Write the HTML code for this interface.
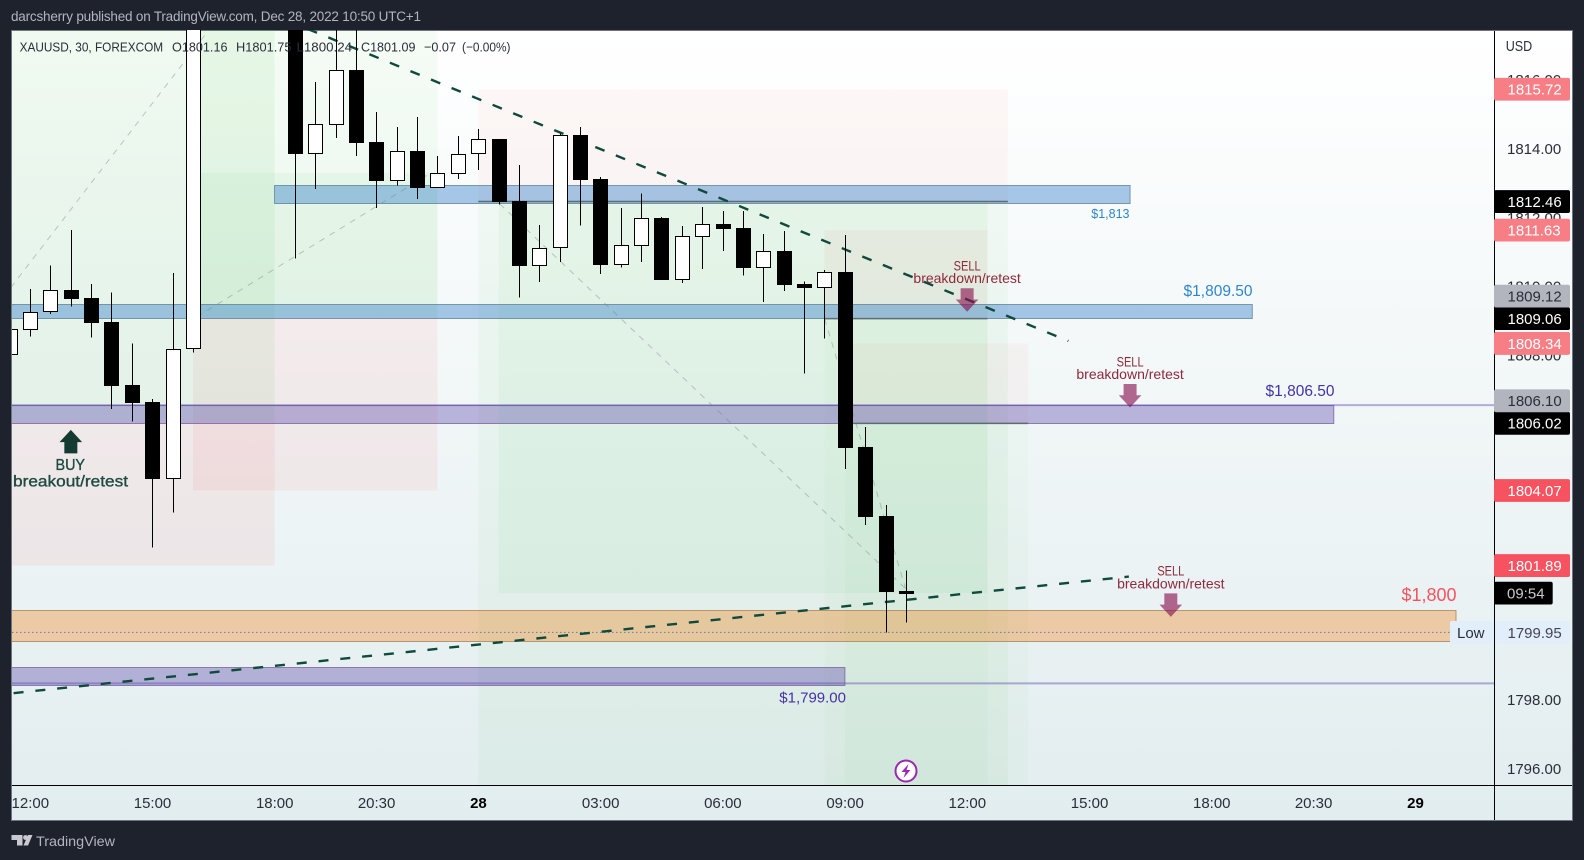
<!DOCTYPE html>
<html lang="en">
<head>
<meta charset="utf-8">
<title>XAUUSD 30 chart</title>
<style>
html,body{margin:0;padding:0;background:#1e222d;width:1584px;height:860px;overflow:hidden}
svg{display:block}
text{font-family:"Liberation Sans",sans-serif;white-space:pre}
.tick{font-size:15px;fill:#2a2e39}
.plab{font-size:15px}
.anno{font-size:14px;fill:#8e2a3c;text-anchor:middle}
.leg{font-size:13px;fill:#2a2e39}
</style>
</head>
<body>
<svg id="root" xmlns="http://www.w3.org/2000/svg" width="1584" height="860" viewBox="0 0 1584 860">
  <defs>
    <linearGradient id="bg" x1="0" y1="0" x2="0" y2="1">
      <stop offset="0" stop-color="#ffffff"/>
      <stop offset="1" stop-color="#e2edef"/>
    </linearGradient>
    <clipPath id="plot"><rect x="12" y="30" width="1482" height="755"/></clipPath>
  </defs>
  <rect x="0" y="0" width="1584" height="860" fill="#1e222d"/>
  <text x="11" y="21" font-size="13.5" fill="#b2b5be" textLength="410" lengthAdjust="spacing">darcsherry published on TradingView.com, Dec 28, 2022 10:50 UTC+1</text>
  <rect x="11.5" y="30.5" width="1561" height="790" fill="url(#bg)" stroke="#70747f" stroke-width="1"/>
  <g id="plotLayer" clip-path="url(#plot)"></g>
  <g id="axisLayer"></g>
  <g>
    <text class="leg" x="19.6" y="51.3" textLength="143.5" lengthAdjust="spacingAndGlyphs">XAUUSD, 30, FOREXCOM</text>
    <text class="leg" x="172" y="51.3" textLength="55.5" lengthAdjust="spacingAndGlyphs">O1801.16</text>
    <text class="leg" x="236" y="51.3" textLength="55.5" lengthAdjust="spacingAndGlyphs">H1801.75</text>
    <text class="leg" x="296.5" y="51.3" textLength="55.5" lengthAdjust="spacingAndGlyphs">L1800.24</text>
    <text class="leg" x="361" y="51.3" textLength="54.5" lengthAdjust="spacingAndGlyphs">C1801.09</text>
    <text class="leg" x="424" y="51.3" textLength="32" lengthAdjust="spacingAndGlyphs">−0.07</text>
    <text class="leg" x="462" y="51.3" textLength="48.5" lengthAdjust="spacingAndGlyphs">(−0.00%)</text>
  </g>
  <g>
    <path d="M11.5 835h11v10.5h-5.5v-5.5h-5.5z" fill="#c8cad0"/>
    <circle cx="25.5" cy="837.5" r="2.4" fill="#c8cad0"/>
    <path d="M28 835h4.5l-4.5 10.5h-4.5z" fill="#c8cad0"/>
    <text x="36" y="846" font-size="14" fill="#b2b5be" textLength="79" lengthAdjust="spacingAndGlyphs">TradingView</text>
  </g>
</svg>
<script>
// ---- candle data (30 minute bars), bar 0 = 12:00 on Dec 27 ----
const firstBar = -1;
const opens  = [1808.00,1808.74,1809.24,1809.89,1809.66,1808.96,1807.13,1806.64,1804.41,1808.17,1819.00,1820.00,1821.00,1820.50,1819.50,1813.85,1814.69,1816.28,1814.19,1813.07,1813.93,1812.86,1813.27,1813.83,1814.28,1812.48,1810.60,1811.10,1814.39,1813.11,1810.63,1811.18,1811.98,1810.19,1811.44,1811.81,1811.69,1810.54,1811.02,1810.07,1809.96,1810.41,1805.33,1803.33,1801.16];
const highs  = [1809.20,1809.92,1810.61,1811.63,1810.06,1809.82,1808.34,1806.72,1810.38,1820.00,1821.00,1822.00,1822.50,1821.50,1820.00,1815.93,1818.40,1818.20,1815.06,1814.62,1814.91,1813.78,1814.36,1814.57,1814.28,1813.52,1811.78,1814.44,1814.62,1813.17,1812.27,1812.70,1812.01,1811.75,1812.30,1812.19,1812.19,1811.52,1811.60,1810.14,1810.47,1811.49,1805.91,1803.65,1801.75];
const lows   = [1807.80,1808.54,1809.20,1809.41,1808.51,1806.44,1806.07,1802.41,1803.43,1808.07,1818.20,1819.00,1820.00,1819.00,1810.80,1812.83,1814.31,1813.78,1812.27,1812.92,1812.54,1812.86,1813.12,1813.38,1812.38,1809.67,1810.12,1810.70,1811.76,1810.36,1810.54,1810.70,1810.18,1810.10,1810.50,1811.02,1810.31,1809.54,1809.86,1807.46,1808.48,1804.69,1803.07,1799.95,1800.24];
const closes = [1808.75,1809.24,1809.88,1809.64,1808.94,1807.11,1806.62,1804.41,1808.17,1819.00,1820.00,1821.00,1820.50,1819.50,1813.85,1814.70,1816.27,1814.17,1813.07,1813.92,1812.86,1813.28,1813.83,1814.27,1812.46,1810.60,1811.10,1814.38,1813.09,1810.63,1811.19,1811.97,1810.18,1811.45,1811.80,1811.66,1810.54,1811.02,1810.05,1809.95,1810.41,1805.31,1803.31,1801.13,1801.09];

// ---- axis labels ----
const priceTicks = [1816,1814,1812,1810,1808,1806,1798,1796];
const timeBars   = [0,6,12,17,22,28,34,40,46,52,58,63,68];
const timeLabels = ["12:00","15:00","18:00","20:30","28","03:00","06:00","09:00","12:00","15:00","18:00","20:30","29"];
const boldTimeLabels = ["28","29"];

// ---- price scale markers ----
const stopLabels   = [1815.72,1811.63,1808.34];
const longStops    = [1804.07,1801.89];
const entryLabels  = [1812.46,1809.06,1806.02];
const greyLabels   = [1809.12,1806.10];
const lastPrice    = 1801.09;
const lowPrice     = 1799.95;
const countdown    = "09:54";

// ---- long/short position tool zones (bar range, price range) ----
const profitFrom   = [-2,8,8,22,23,39,40];
const profitTo     = [12,20,20,48,47,47,49];
const profitTop    = [1818,1818,1813.29,1812.46,1812.46,1809.06,1806.02];
const profitBottom = [1806.10,1809.12,1809.12,1795.5,1801.09,1795.5,1795.5];
const lossFrom     = [-2,8,22,39,40];
const lossTo       = [12,20,48,47,49];
const lossTop      = [1806.10,1809.12,1815.72,1811.63,1808.34];
const lossBottom   = [1801.89,1804.07,1812.46,1809.06,1806.02];

// ---- support / resistance bands ----
const bandNames  = ["blue-band-1813","blue-band-1809","purple-band-1806","orange-band-1800","purple-band-1799"];
const bandKinds  = ["blue","blue","purple","orange","purple"];
const bandFrom   = [12,-2,-2,-2,-2];
const bandTo     = [54,60,64,70,40];
const bandTop    = [1812.93,1809.48,1806.56,1800.59,1798.94];
const bandBottom = [1812.41,1809.06,1806.04,1799.69,1798.43];

// ---- extended horizontal levels ----
const levelPrices = [1806.55,1798.47];
const entryLineFrom  = [22,39,40];
const entryLineTo    = [48,47,49];
const entryLinePrice = [1812.46,1809.06,1806.02];

// ---- trend lines and position-tool diagonals ----
const trendBarA   = [13.63,-1.88];
const trendPriceA = [1817.47,1798.12];
const trendBarB   = [50.97,53.94];
const trendPriceB = [1808.41,1801.57];
const diagBarA    = [-0.95,8.18,23.06,39.01];
const diagPriceA  = [1809.96,1809.11,1812.39,1809.05];
const diagBarB    = [8.77,19.67,43,43];
const diagPriceB  = [1817.44,1813.29,1801.21,1801.18];

// ---- trade arrows ----
const sellArrowBars   = [46,54,56];
const sellArrowPrices = [1809.26,1806.48,1800.40];
const buyArrowBar   = 2;
const buyArrowPrice = 1805.83;
const eventBar = 43;

// ---- axis functions ----
const PX_PER_BAR = 20.37, BAR0_X = 30.1;
const PX_PER_USD = 34.44, P0 = 1814, P0_Y = 148.5;
function X(b){ return BAR0_X + b * PX_PER_BAR; }
function Y(p){ return P0_Y + (P0 - p) * PX_PER_USD; }

const NS = "http://www.w3.org/2000/svg";
const plot = document.getElementById("plotLayer");
const axis = document.getElementById("axisLayer");
function mk(tag, parent, attrs){
  const el = document.createElementNS(NS, tag);
  for (const k in attrs) el.setAttribute(k, attrs[k]);
  parent.appendChild(el);
  return el;
}

// zones
const profitOpacity = [0.085,0.055,0.06,0.05,0.06,0.035,0.035];
const lossOpacity   = [0.065,0.065,0.04,0.05,0.04];
profitFrom.forEach((b,i)=>{
  const el = mk("rect", plot, {x:X(b), y:Y(profitTop[i]), width:X(profitTo[i])-X(b), height:Y(profitBottom[i])-Y(profitTop[i]), fill:"rgb(76,200,80)", "fill-opacity":profitOpacity[i]});
  
  
});
lossFrom.forEach((b,i)=>{
  const el = mk("rect", plot, {x:X(b), y:Y(lossTop[i]), width:X(lossTo[i])-X(b), height:Y(lossBottom[i])-Y(lossTop[i]), fill:"rgb(244,67,54)", "fill-opacity":lossOpacity[i]});
  
  
});

// bands
const bandFill = {blue:"rgba(41,120,200,0.4)", purple:"rgba(90,70,170,0.38)", orange:"rgba(240,130,20,0.35)"};
const bandStroke = {blue:"rgba(90,125,150,0.75)", purple:"rgba(110,85,150,0.7)", orange:"rgba(170,130,90,0.8)"};
bandFrom.forEach((b,i)=>{
  const el = mk("rect", plot, {x:X(b), y:Math.round(Y(bandTop[i]))+.5, width:X(bandTo[i])-X(b), height:Math.round(Y(bandBottom[i])-Y(bandTop[i])), fill:bandFill[bandKinds[i]], stroke:bandStroke[bandKinds[i]], "stroke-width":1});
  
  
});

// horizontal levels
levelPrices.forEach(p=>{
  const el = mk("line", plot, {x1:0, x2:1494, y1:Y(p), y2:Y(p), stroke:"rgba(90,70,170,0.42)", "stroke-width":2});
  
  
});
entryLinePrice.forEach((p,i)=>{
  const el = mk("line", plot, {x1:X(entryLineFrom[i]), x2:X(entryLineTo[i]), y1:Y(p), y2:Y(p), stroke:"#5d6b73", "stroke-width":1.5});
  
  
});
{
  const el = mk("line", plot, {x1:0, x2:1450, y1:Y(lowPrice), y2:Y(lowPrice), stroke:"#6a78a8", "stroke-width":1, "stroke-dasharray":"1.5 2.5"});
  
  
}

// position tool diagonals
diagBarA.forEach((b,i)=>{
  const el = mk("line", plot, {x1:X(b), y1:Y(diagPriceA[i]), x2:X(diagBarB[i]), y2:Y(diagPriceB[i]), stroke:"rgba(120,123,134,0.42)", "stroke-width":1, "stroke-dasharray":"6 6"});
  
  
});

// trend lines
const trendDash = ["10 12.2","10 11.9"];
trendBarA.forEach((b,i)=>{
  const el = mk("line", plot, {x1:X(b), y1:Y(trendPriceA[i]), x2:X(trendBarB[i]), y2:Y(trendPriceB[i]), stroke:"#0f4a3d", "stroke-width":2.4, "stroke-dasharray":trendDash[i]});
  
  
});

// candles
opens.forEach((o,i)=>{
  const c = closes[i], h = highs[i], l = lows[i], bar = firstBar + i;
  const cx = Math.floor(X(bar)+.4);
  const g = mk("g", plot, {"shape-rendering":"crispEdges"});
  
  
  const wick = mk("line", g, {x1:cx+.5, x2:cx+.5, y1:Y(h), y2:Y(l), stroke:"#000", "stroke-width":1});
  
  
  const top = Math.round(Y(Math.max(o,c))), bot = Math.round(Y(Math.min(o,c)));
  const up = c >= o;
  const body = up
    ? mk("rect", g, {x:cx-7+.5, y:top+.5, width:14, height:Math.max(bot-top-1,1), fill:"#fff", stroke:"#000", "stroke-width":1})
    : mk("rect", g, {x:cx-7, y:top, width:15, height:Math.max(bot-top,3), fill:"#000"});
  
  
});

// arrows
function arrowPoints(b, tip, dir){
  const x = X(b);
  return [[x,tip],[x-11.3,tip-12.3*dir],[x-6.5,tip-12.3*dir],[x-6.5,tip-23.5*dir],[x+6.5,tip-23.5*dir],[x+6.5,tip-12.3*dir],[x+11.3,tip-12.3*dir]].map(p=>p.join(",")).join(" ");
}
sellArrowBars.forEach((b,i)=>{
  const el = mk("polygon", plot, {points:arrowPoints(b, Y(sellArrowPrices[i]), 1), fill:"rgba(136,14,79,0.62)"});
  
  
});
{
  const el = mk("polygon", plot, {points:arrowPoints(buyArrowBar, Y(buyArrowPrice), -1), fill:"#153a32"});
  
  
}

// annotation text
function anno(name, txt, attrs){
  const el = mk("text", plot, attrs);
  el.textContent = txt;
  
  
  return el;
}
anno('buy-label', 'BUY', {x:55.5, y:470, "font-size":15.5, fill:"#1e4a40", stroke:"#1e4a40", "stroke-width":.35, textLength:29.5, lengthAdjust:"spacingAndGlyphs"});
anno('buy-strategy-label', 'breakout/retest', {x:13, y:486.5, "font-size":15.5, fill:"#1e4a40", stroke:"#1e4a40", "stroke-width":.35, textLength:115, lengthAdjust:"spacingAndGlyphs"});
sellArrowBars.forEach((b,i)=>{
  const tip = Y(sellArrowPrices[i]);
  anno('sell-label', 'SELL', {class:"anno", x:X(b), y:tip-41.2, textLength:27, lengthAdjust:"spacingAndGlyphs"});
  anno('sell-strategy-label', 'breakdown/retest', {class:"anno", x:X(b), y:tip-28.5});
});
anno('level-label-1813', '$1,813', {x:1129.5, y:218, "font-size":12.5, fill:"#2d86cc", "text-anchor":"end"});
anno('level-label-1809-50', '$1,809.50', {x:1252.5, y:296, "font-size":15.5, fill:"#2d86cc", "text-anchor":"end"});
anno('level-label-1806-50', '$1,806.50', {x:1334.5, y:396, "font-size":15.5, fill:"#4532a8", "text-anchor":"end"});
anno('level-label-1800', '$1,800', {x:1456.5, y:601, "font-size":18, fill:"#f7525f", "text-anchor":"end"});
anno('level-label-1799', '$1,799.00', {x:846, y:702.5, "font-size":15, fill:"#4532a8", "text-anchor":"end"});

// event marker
{
  const g = mk("g", plot, {});
  
  
  const ex = X(eventBar), ey = 771;
  const c = mk("circle", g, {cx:ex, cy:ey, r:10.5, fill:"#fff", stroke:"#9c27b0", "stroke-width":2});
  
  
  const b = mk("polygon", g, {points:[[ex+2.5,ey-7],[ex-4.5,ey+1],[ex-.5,ey+1],[ex-2.5,ey+7],[ex+4.5,ey-1],[ex+.5,ey-1]].map(p=>p.join(",")).join(" "), fill:"#9c27b0"});
  
  
}

// axes
{
  const v = mk("line", axis, {x1:1494.5, x2:1494.5, y1:31, y2:820, stroke:"#000", "stroke-width":1});
  
  
  const h = mk("line", axis, {x1:12, x2:1572, y1:785.5, y2:785.5, stroke:"#000", "stroke-width":1});
  
  
  const usd = mk("text", axis, {x:1505.7, y:51, "font-size":15, fill:"#2a2e39", textLength:26.5, lengthAdjust:"spacingAndGlyphs"});
  usd.textContent = "USD";
  
  
}
priceTicks.forEach(p=>{
  const el = mk("text", axis, {class:"tick", x:1507, y:Y(p)+5.4});
  el.textContent = p.toFixed(2);
  
  
});
timeBars.forEach((b,i)=>{
  const bold = boldTimeLabels.includes(timeLabels[i]);
  const el = mk("text", axis, {x:X(b)+.2, y:808, "font-size":15, fill:bold?"#000":"#2a2e39", "font-weight":bold?"bold":"normal", "text-anchor":"middle"});
  el.textContent = timeLabels[i];
  
  
});

// price axis labels: merged, sorted from low to high, and stacked when they collide
const merged = [];
stopLabels.forEach(p=>merged.push({p, bg:"#f87e85", fg:"#fff"}));
longStops.forEach(p=>merged.push({p, bg:"#f7525f", fg:"#fff"}));
entryLabels.forEach(p=>merged.push({p, bg:"#000", fg:"#fff"}));
greyLabels.forEach(p=>merged.push({p, bg:"#b2b5be", fg:"#2a2e39"}));
merged.sort((a,b)=>a.p-b.p);
let prevY = Infinity;
merged.forEach(m=>{
  let cy = Y(m.p);
  if (cy > prevY - 22.5) cy = prevY - 22.5;
  prevY = cy;
  const r = mk("rect", axis, {x:1494, y:cy-11.4, width:76, height:22.8, rx:2, fill:m.bg});
  
  
  const t = mk("text", axis, {class:"plab", x:1507.5, y:cy+5.4, fill:m.fg});
  t.textContent = m.p.toFixed(2);
  
  
});
{
  const cy = Y(lastPrice);
  const r = mk("rect", axis, {x:1494, y:cy-11.4, width:58.7, height:22.8, rx:2, fill:"#000"});
  
  
  const t = mk("text", axis, {class:"plab", x:1507, y:cy+5.4, fill:"#c8c9cc"});
  t.textContent = countdown;
  
  

  const ly = Y(lowPrice);
  const a = mk("rect", axis, {x:1450, y:ly-11.4, width:43.5, height:22.8, rx:2, fill:"#e3eefb"});
  
  
  const b = mk("rect", axis, {x:1495, y:ly-11.4, width:75, height:22.8, rx:2, fill:"#e3eefb"});
  
  
  const lt = mk("text", axis, {x:1457, y:ly+5.4, "font-size":15, fill:"#2a2e39"});
  lt.textContent = "Low";
  
  
  const lp = mk("text", axis, {class:"plab", x:1507.5, y:ly+5.4, fill:"#434651"});
  lp.textContent = lowPrice.toFixed(2);
  
  
}
</script>
</body>
</html>
